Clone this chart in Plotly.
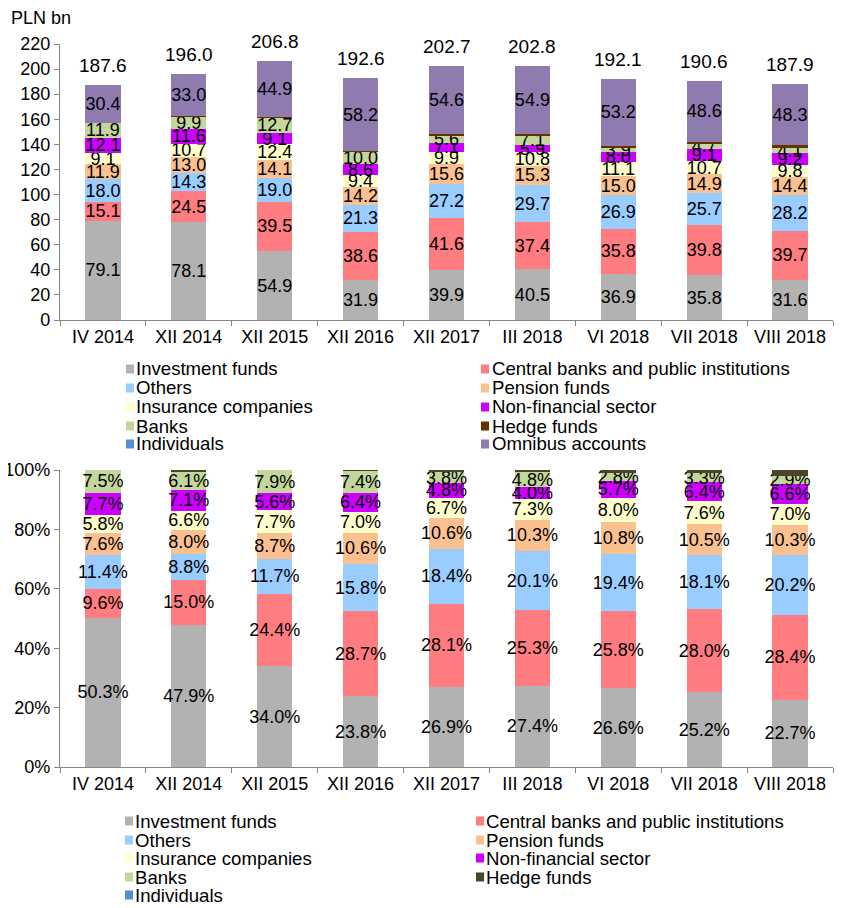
import plotly.graph_objects as go

categories = ["IV 2014", "XII 2014", "XII 2015", "XII 2016", "XII 2017",
              "III 2018", "VI 2018", "VII 2018", "VIII 2018"]

# Top chart: PLN bn
inv_funds = [79.1, 78.1, 54.9, 31.9, 39.9, 40.5, 36.9, 35.8, 31.6]
central_banks = [15.1, 24.5, 39.5, 38.6, 41.6, 37.4, 35.8, 39.8, 39.7]
others = [18.0, 14.3, 19.0, 21.3, 27.2, 29.7, 26.9, 25.7, 28.2]
pension = [11.9, 13.0, 14.1, 14.2, 15.6, 15.3, 15.0, 14.9, 14.4]
insurance = [9.1, 10.7, 12.4, 9.4, 9.9, 10.8, 11.1, 10.7, 9.8]
non_financial = [12.1, 11.6, 9.1, 8.6, 7.1, 5.9, 8.0, 9.1, 9.2]
banks = [11.9, 9.9, 12.7, 10.0, 5.6, 7.1, 3.9, 4.7, 4.1]
hedge = [0.0, 0.9, 0.2, 0.4, 1.2, 1.2, 1.3, 1.3, 2.6]
individuals = [0.0, 0.0, 0.0, 0.0, 0.0, 0.0, 0.0, 0.0, 0.0]
omnibus = [30.4, 33.0, 44.9, 58.2, 54.6, 54.9, 53.2, 48.6, 48.3]
totals = [187.6, 196.0, 206.8, 192.6, 202.7, 202.8, 192.1, 190.6, 187.9]

# Bottom chart: shares (%)
inv_funds_pct = [50.3, 47.9, 34.0, 23.8, 26.9, 27.4, 26.6, 25.2, 22.7]
central_banks_pct = [9.6, 15.0, 24.4, 28.7, 28.1, 25.3, 25.8, 28.0, 28.4]
others_pct = [11.4, 8.8, 11.7, 15.8, 18.4, 20.1, 19.4, 18.1, 20.2]
pension_pct = [7.6, 8.0, 8.7, 10.6, 10.6, 10.3, 10.8, 10.5, 10.3]
insurance_pct = [5.8, 6.6, 7.7, 7.0, 6.7, 7.3, 8.0, 7.6, 7.0]
non_financial_pct = [7.7, 7.1, 5.6, 6.4, 4.8, 4.0, 5.7, 6.4, 6.6]
banks_pct = [7.5, 6.1, 7.9, 7.4, 3.8, 4.8, 2.8, 3.3, 2.9]
hedge_pct = [0.0, 0.5, 0.1, 0.3, 0.7, 0.8, 0.9, 0.9, 1.9]
individuals_pct = [0.0, 0.0, 0.0, 0.0, 0.0, 0.0, 0.0, 0.0, 0.0]

names = ["Investment funds", "Central banks and public institutions", "Others",
         "Pension funds", "Insurance companies", "Non-financial sector", "Banks",
         "Hedge funds", "Individuals", "Omnibus accounts"]

colors_top = ["#B2B2B2", "#FF7C80", "#99CCFF", "#FAC090", "#FFFFCC", "#CC00FF",
              "#C3D69B", "#663300", "#558ED5", "#8F7BB0"]
colors_bot = ["#B2B2B2", "#FF7C80", "#99CCFF", "#FAC090", "#FFFFCC", "#CC00FF",
              "#C3D69B", "#4A452A", "#558ED5"]

FONT = "Arial"
LBL = 18
LEG = 18.6

top_series = [inv_funds, central_banks, others, pension, insurance, non_financial,
              banks, hedge, individuals, omnibus]
bot_series = [inv_funds_pct, central_banks_pct, others_pct, pension_pct, insurance_pct,
              non_financial_pct, banks_pct, hedge_pct, individuals_pct]
labeled = [True, True, True, True, True, True, True, False, False, True]

W, H = 853, 908
OFF = 8  # page body margin offset


def fx(px):
    return (px - OFF) / W


def fy(px):
    return 1 - (px - OFF) / H


fig = go.Figure()

for i, (nm, vals) in enumerate(zip(names, top_series)):
    fig.add_trace(go.Bar(
        x=categories, y=vals, name=nm, marker=dict(color=colors_top[i], line=dict(width=0)),
        texttemplate="%{y:.1f}" if labeled[i] else None,
        textposition="inside" if labeled[i] else "none",
        insidetextanchor="middle", textangle=0, constraintext="none",
        insidetextfont=dict(color="black", size=LBL, family=FONT),
        xaxis="x", yaxis="y", showlegend=False, hoverinfo="skip",
    ))

for i, (nm, vals) in enumerate(zip(names[:9], bot_series)):
    fig.add_trace(go.Bar(
        x=categories, y=vals, name=nm, marker=dict(color=colors_bot[i], line=dict(width=0)),
        texttemplate="%{y:.1f}%" if labeled[i] else None,
        textposition="inside" if labeled[i] else "none",
        insidetextanchor="middle", textangle=0, constraintext="none",
        insidetextfont=dict(color="black", size=LBL, family=FONT),
        xaxis="x2", yaxis="y2", showlegend=False, hoverinfo="skip",
    ))

annotations = [
    dict(x=c, y=t, xref="x", yref="y", text=f"{t:.1f}", showarrow=False,
         yanchor="bottom", yshift=7, font=dict(size=LBL + 1, family=FONT, color="black"))
    for c, t in zip(categories, totals)
]
annotations.append(dict(x=fx(9), y=fy(18), xref="paper", yref="paper", text="PLN bn",
                        showarrow=False, xanchor="left", yanchor="middle",
                        font=dict(size=18, family=FONT, color="black")))

shapes = []

# Manual legends (two columns, row-wise order)
top_rows = [369, 388, 407, 426, 444]
top_cols_sq = [126, 481]
top_cols_tx = [134, 490]
bot_rows = [821, 840, 858, 877, 895]
bot_cols_sq = [125, 476]
bot_cols_tx = [133, 484]


def add_legend(nms, cols, rows, sq_x, tx_x):
    for i, (nm, col) in enumerate(zip(nms, cols)):
        r, c = divmod(i, 2)
        yc = rows[r]
        x0 = sq_x[c]
        shapes.append(dict(type="rect", xref="paper", yref="paper",
                           x0=fx(x0), x1=fx(x0 + 8), y0=fy(yc + 4.5), y1=fy(yc - 4.5),
                           fillcolor=col, line=dict(width=0)))
        annotations.append(dict(x=fx(tx_x[c]), y=fy(yc), xref="paper", yref="paper",
                                text=nm, showarrow=False, xanchor="left", yanchor="middle",
                                font=dict(size=LEG, family=FONT, color="black")))


add_legend(names, colors_top, top_rows, top_cols_sq, top_cols_tx)
add_legend(names[:9], colors_bot, bot_rows, bot_cols_sq, bot_cols_tx)

axis_common = dict(showgrid=False, zeroline=False, showline=True, linecolor="#868686",
                   linewidth=1.3, ticks="outside", tickcolor="#868686", ticklen=5,
                   automargin=False,
                   tickfont=dict(size=LBL, family=FONT, color="black"))

fig.update_layout(
    template="none",
    width=W, height=H,
    margin=dict(l=0, r=0, t=0, b=0, pad=0, autoexpand=False),
    paper_bgcolor="white", plot_bgcolor="white",
    barmode="stack", bargap=0.59,
    showlegend=False,
    font=dict(family=FONT, color="black"),
    xaxis=dict(domain=[fx(60), fx(833)], anchor="y", tickson="boundaries", **axis_common),
    yaxis=dict(domain=[fy(320), fy(44)], anchor="x", range=[0, 220], dtick=20,
               **axis_common),
    xaxis2=dict(domain=[fx(60), fx(833)], anchor="y2", tickson="boundaries", **axis_common),
    yaxis2=dict(domain=[fy(767), fy(470)], anchor="x2", range=[0, 100], dtick=20,
                ticksuffix="%", **axis_common),
    annotations=annotations,
    shapes=shapes,
)

fig.write_html("out.html")
